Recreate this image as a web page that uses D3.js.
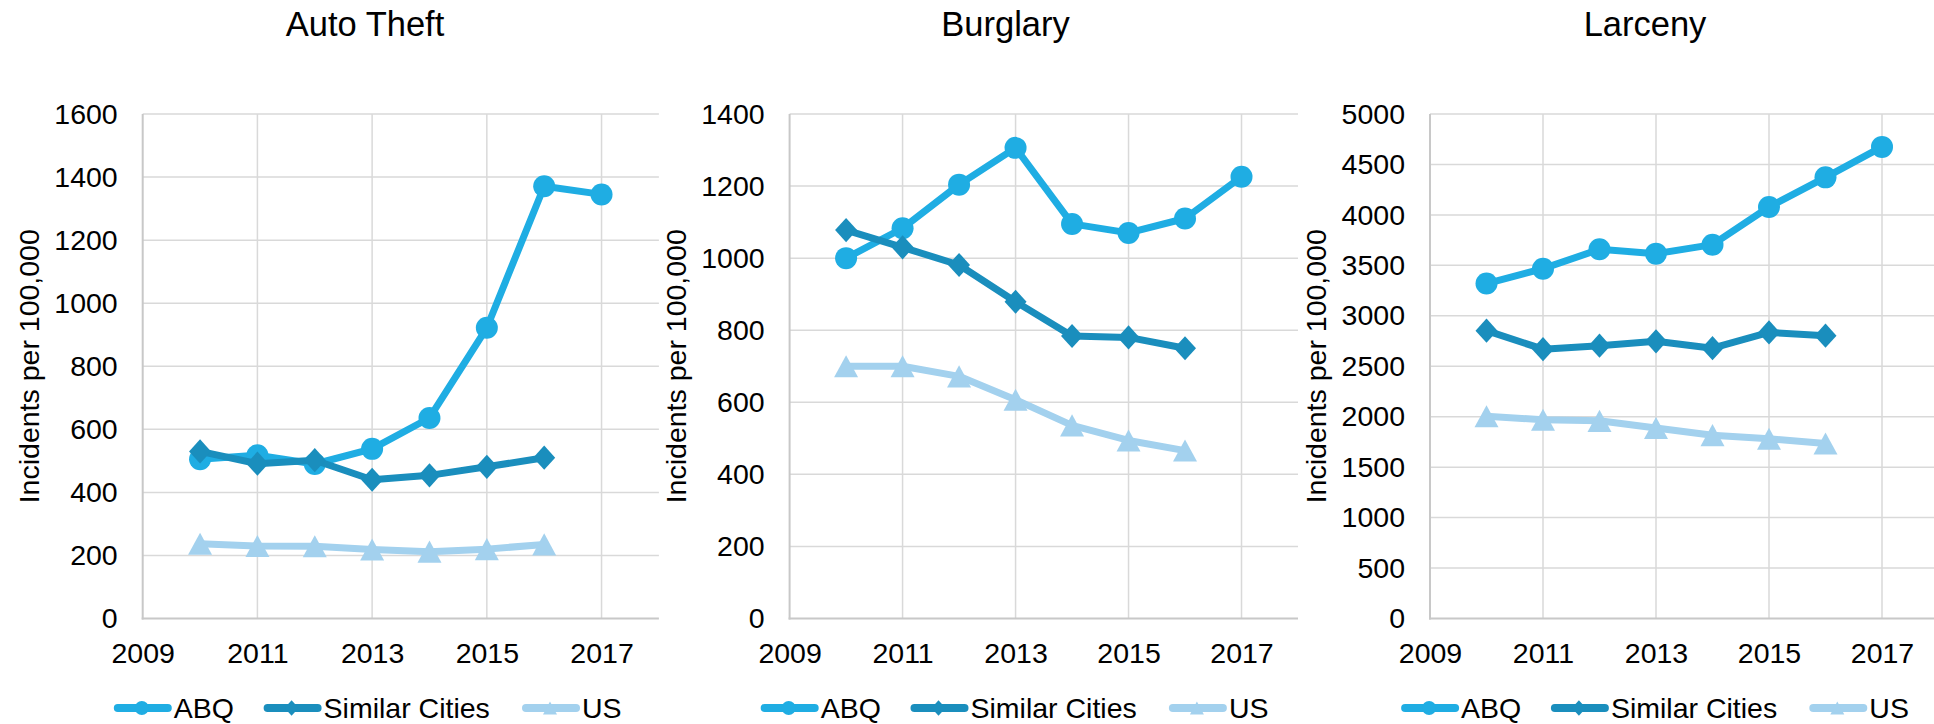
<!DOCTYPE html>
<html>
<head>
<meta charset="utf-8">
<script src="https://cdn.jsdelivr.net/npm/d3@7"></script>
<style>
  body { margin: 0; background: #fff; }
  svg { display: block; font-family: "Liberation Sans", Arial, sans-serif; }
  .grid line { stroke: #d9d9d9; stroke-width: 1.5; }
  .axis-line { stroke: #c8c8c8; stroke-width: 2; }
</style>
</head>
<body>
<div id="chart"></div>
<script>
// values
const years = [2010, 2011, 2012, 2013, 2014, 2015, 2016, 2017];
const seriesNames = ["ABQ", "Similar Cities", "US"];
const xTicks = [2009, 2011, 2013, 2015, 2017];

const titles = ["Auto Theft", "Burglary", "Larceny"];
const yMax = [1600, 1400, 5000];
const yStep = [200, 200, 500];

const autoABQ = [505, 518, 490, 538, 636, 922, 1371, 1345];
const autoSimilar = [530, 491, 502, 440, 454, 481, 510];
const autoUS = [237, 230, 229, 219, 212, 220, 235];

const burgABQ = [1000, 1083, 1204, 1306, 1095, 1070, 1110, 1226];
const burgSimilar = [1078, 1030, 981, 879, 784, 780, 750];
const burgUS = [700, 700, 672, 607, 536, 494, 466];

const larcABQ = [3320, 3467, 3659, 3616, 3705, 4078, 4372, 4674];
const larcSimilar = [2853, 2669, 2704, 2747, 2679, 2835, 2803];
const larcUS = [2005, 1970, 1959, 1888, 1817, 1781, 1735];

const panelData = [
    [autoABQ, autoSimilar, autoUS],
    [burgABQ, burgSimilar, burgUS],
    [larcABQ, larcSimilar, larcUS]
];

const colors = ["#1fade3", "#1a8ebd", "#a3d1ee"];
const shapes = ["circle", "diamond", "triangle"];

const width = 1934, height = 724;
const plotTop = 114, plotBottom = 618.5;
const panelLeft = [142.7, 789.6, 1430];
const panelRight = [658.9, 1298, 1938.5];
const titleX = [365, 1005.5, 1645];

const svg = d3.select("#chart")
    .append("svg")
    .attr("width", width)
    .attr("height", height);

function marker(shape, s) {
    // s = nominal width of the marker
    if (shape === "circle") return d3.symbol().type(d3.symbolCircle).size(Math.PI * s * s / 4)();
    if (shape === "diamond") {
        let w = s / 2, h = s * 0.55;
        return "M0," + (-h) + "L" + w + ",0L0," + h + "L" + (-w) + ",0Z";
    }
    let w = s / 2, h = s * 0.46;
    return "M0," + (-h) + "L" + w + "," + h + "L" + (-w) + "," + h + "Z";
}

panelData.forEach(function (series, p) {
    let x = d3.scaleLinear()
        .domain([2009, 2018])
        .range([panelLeft[p], panelRight[p]]);

    let y = d3.scaleLinear()
        .domain([0, yMax[p]])
        .range([plotBottom, plotTop]);

    let yTicks = d3.range(0, yMax[p] + 1, yStep[p]);

    let g = svg.append("g");

    // gridlines
    g.append("g")
        .attr("class", "grid")
        .selectAll("line.h")
        .data(yTicks.filter(d => d > 0))
        .enter().append("line")
        .attr("x1", x(2009)).attr("x2", x(2018))
        .attr("y1", d => y(d)).attr("y2", d => y(d));

    g.append("g")
        .attr("class", "grid")
        .selectAll("line.v")
        .data(xTicks.filter(d => d > 2009))
        .enter().append("line")
        .attr("x1", d => x(d)).attr("x2", d => x(d))
        .attr("y1", y(yMax[p])).attr("y2", y(0));

    // axes
    let yAxis = d3.axisLeft(y).tickValues(yTicks).tickSize(0).tickPadding(25).tickFormat(d3.format("d"));
    let yG = g.append("g")
        .attr("transform", "translate(" + x(2009) + ",0)")
        .call(yAxis);
    yG.select(".domain").remove();
    yG.selectAll("text")
        .attr("font-size", 28.5)
        .attr("font-family", "Liberation Sans, Arial, sans-serif")
        .attr("fill", "#000");

    let xAxis = d3.axisBottom(x).tickValues(xTicks).tickSize(0).tickPadding(24).tickFormat(d3.format("d"));
    let xG = g.append("g")
        .attr("transform", "translate(0," + y(0) + ")")
        .call(xAxis);
    xG.select(".domain").remove();
    xG.selectAll("text")
        .attr("font-size", 28.5)
        .attr("font-family", "Liberation Sans, Arial, sans-serif")
        .attr("fill", "#000");

    g.append("line")
        .attr("class", "axis-line")
        .attr("x1", x(2009)).attr("x2", x(2009))
        .attr("y1", y(yMax[p])).attr("y2", y(0) + 1);
    g.append("line")
        .attr("class", "axis-line")
        .attr("x1", x(2009) - 1).attr("x2", x(2018))
        .attr("y1", y(0)).attr("y2", y(0));

    // titles
    g.append("text")
        .attr("x", titleX[p])
        .attr("y", 36)
        .attr("text-anchor", "middle")
        .attr("font-size", 34.5)
        .text(titles[p]);

    g.append("text")
        .attr("transform", "translate(" + (x(2009) - 104) + "," + ((plotTop + plotBottom) / 2) + ") rotate(-90)")
        .attr("text-anchor", "middle")
        .attr("font-size", 28.5)
        .text("Incidents per 100,000");

    // series
    let line = d3.line()
        .x((d, i) => x(years[i]))
        .y(d => y(d));

    series.forEach(function (values, s) {
        g.append("path")
            .datum(values)
            .attr("d", line)
            .attr("fill", "none")
            .attr("stroke", colors[s])
            .attr("stroke-width", 7)
            .attr("stroke-linejoin", "round");

        g.selectAll(".m" + s)
            .data(values)
            .enter().append("path")
            .attr("class", "m" + s)
            .attr("transform", (d, i) => "translate(" + x(years[i]) + "," + y(d) + ")")
            .attr("d", marker(shapes[s], s === 2 ? 24 : 22))
            .attr("fill", colors[s]);
    });

    // legend
    let legendX = [113.8, 263.6, 522].map(v => v - 142.7 + x(2009));
    let lg = g.append("g").attr("transform", "translate(0,708)");
    seriesNames.forEach(function (name, s) {
        lg.append("line")
            .attr("x1", legendX[s] + 4).attr("x2", legendX[s] + 54)
            .attr("stroke", colors[s])
            .attr("stroke-width", 8)
            .attr("stroke-linecap", "round");
        lg.append("path")
            .attr("transform", "translate(" + (legendX[s] + 28) + ",0)")
            .attr("d", marker(shapes[s], 14))
            .attr("fill", colors[s]);
        lg.append("text")
            .attr("x", legendX[s] + 60)
            .attr("dy", "0.35em")
            .attr("font-size", 28.5)
            .text(name);
    });
});
</script>
</body>
</html>
